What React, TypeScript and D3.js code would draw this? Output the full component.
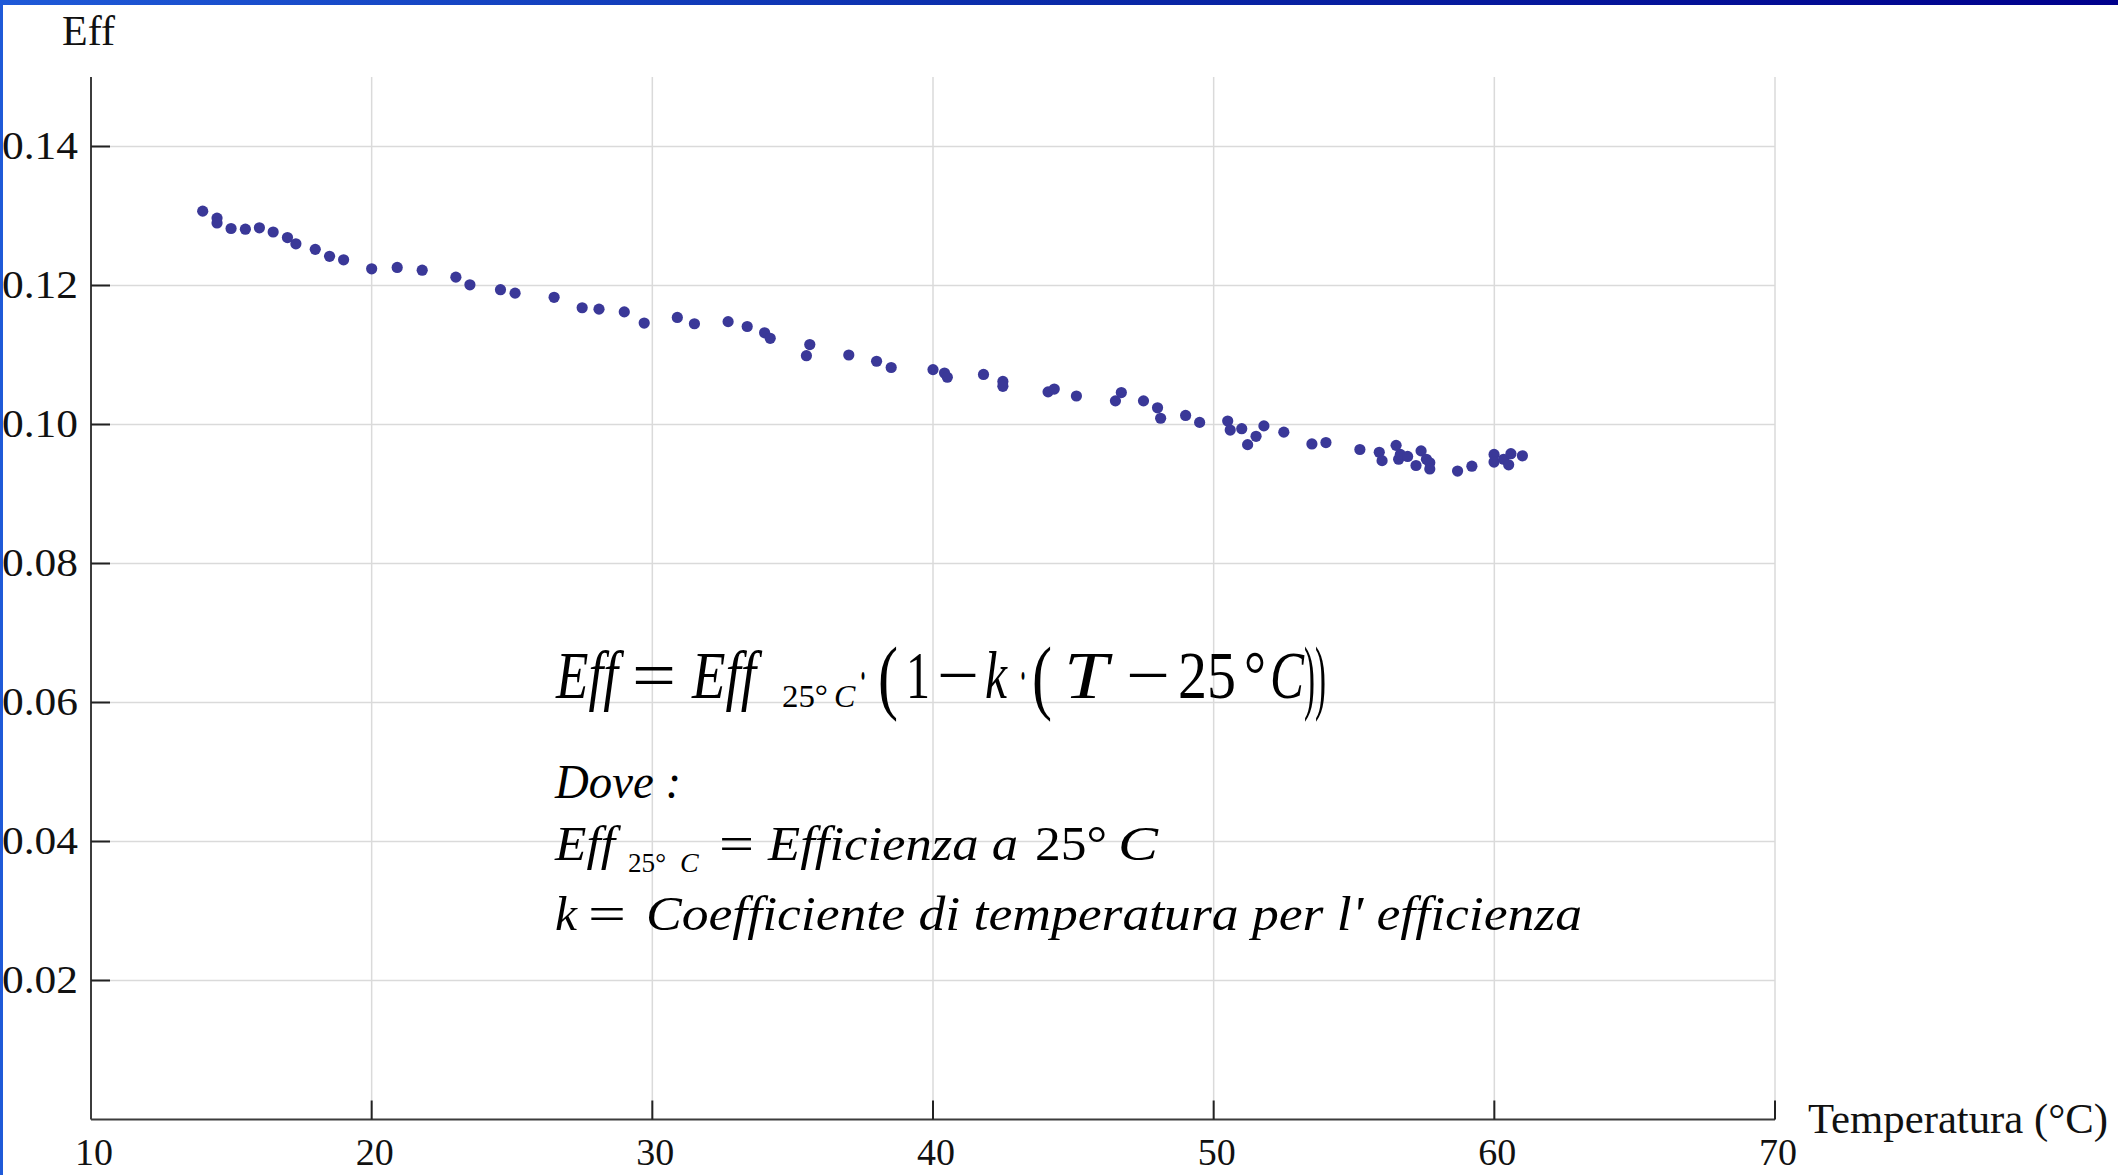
import * as d3 from "d3";
import React from "react";

// temperatura (°C) and efficienza
const temps = [
  13.98, 14.49, 14.49, 14.99, 15.5, 16.0, 16.49, 17.0, 17.3, 17.99, 18.5, 19.0,
  20.0, 20.91, 21.8, 23.0, 23.5, 24.59, 25.11, 26.5, 27.5, 28.1, 29.0, 29.71,
  30.89, 31.5, 32.7, 33.38, 34.0, 34.2, 35.61, 35.49, 37.0, 37.99, 38.51, 40.0,
  40.41, 40.51, 41.8, 42.49, 42.49, 44.1, 44.32, 45.11, 46.5, 46.71, 47.5, 48.0,
  48.11, 49.0, 49.5, 50.5, 50.59, 51.0, 51.21, 51.51, 51.79, 52.5, 53.5, 54.0,
  55.21, 55.9, 56.0, 56.5, 56.59, 56.65, 56.91, 57.21, 57.39, 57.58, 57.7, 57.7,
  58.69, 59.2, 59.99, 59.99, 60.33, 60.51, 60.59, 61.0,
];
const effs = [
  0.1307, 0.1297, 0.129, 0.1282, 0.1281, 0.1283, 0.1277, 0.1269, 0.126, 0.1252,
  0.1242, 0.1237, 0.1224, 0.1226, 0.1222, 0.1212, 0.1201, 0.1194, 0.1189, 0.1183,
  0.1168, 0.1166, 0.1162, 0.1146, 0.1154, 0.1145, 0.1148, 0.1141, 0.1132, 0.1124,
  0.1115, 0.1099, 0.11, 0.1091, 0.1082, 0.1079, 0.1074, 0.1068, 0.1072, 0.1062,
  0.1055, 0.1047, 0.1051, 0.1041, 0.1034, 0.1046, 0.1034, 0.1024, 0.1009, 0.1013,
  0.1003, 0.1005, 0.0992, 0.0994, 0.0971, 0.0983, 0.0998, 0.0989, 0.0972, 0.0974,
  0.0964, 0.096, 0.0948, 0.097, 0.095, 0.0957, 0.0954, 0.0941, 0.0962, 0.095,
  0.0945, 0.0936, 0.0933, 0.094, 0.0957, 0.0946, 0.095, 0.0942, 0.0958, 0.0955,
];
const xTicks = [10, 20, 30, 40, 50, 60, 70];
const yTicks = [0.02, 0.04, 0.06, 0.08, 0.1, 0.12, 0.14];

const W = 2118;
const H = 1175;
const margin = { left: 91, right: 343, top: 77, bottom: 55.5 };
const serif = "'Liberation Serif', 'Times New Roman', serif";
const fit = "spacingAndGlyphs";

const App = () => {
  const x = d3.scaleLinear().domain([10, 70]).range([margin.left, W - margin.right]);
  const y = d3.scaleLinear().domain([0, 0.15]).range([H - margin.bottom, margin.top]);
  const x0 = x(10), x1 = x(70), yb = y(0), yt = y(0.15);
  const pts = temps.map((t, i) => [t, effs[i]]);

  return (
    <svg width={W} height={H} style={{ position: "absolute", left: 0, top: 0, background: "#fff" }}>
      <defs>
        <linearGradient id="bar" x1="0" x2="1" y1="0" y2="0">
          <stop offset="0" stopColor="#1f5ad8" />
          <stop offset="0.5" stopColor="#0a2aa8" />
          <stop offset="1" stopColor="#00008c" />
        </linearGradient>
      </defs>
      <rect x={0} y={0} width={W} height={H} fill="#fff" />
      <rect x={0} y={0} width={W} height={5} fill="url(#bar)" />
      <rect x={0} y={0} width={3} height={H} fill="#1f5ad8" />

      {/* grid */}
      <g stroke="#dadada" strokeWidth={1.5}>
        {xTicks.slice(1).map((t) => (
          <line key={"gx" + t} x1={x(t)} x2={x(t)} y1={yt} y2={yb} />
        ))}
        {yTicks.map((t) => (
          <line key={"gy" + t} x1={x0} x2={x1} y1={y(t)} y2={y(t)} />
        ))}
      </g>

      {/* axes */}
      <line x1={x0} x2={x0} y1={yt} y2={yb} stroke="#3c3c3c" strokeWidth={2} />
      <line x1={x0} x2={x1} y1={yb} y2={yb} stroke="#3c3c3c" strokeWidth={2} />
      <g stroke="#222" strokeWidth={2}>
        {yTicks.map((t) => (
          <line key={"ty" + t} x1={x0} x2={x0 + 19} y1={y(t)} y2={y(t)} />
        ))}
        {xTicks.slice(1).map((t) => (
          <line key={"tx" + t} x1={x(t)} x2={x(t)} y1={yb} y2={yb - 19} />
        ))}
      </g>

      <g fontFamily={serif} fill="#111">
        {yTicks.map((t) => (
          <text key={"ly" + t} x={2} y={y(t) + 12} fontSize={40} textLength={76} lengthAdjust={fit}>
            {d3.format(".2f")(t)}
          </text>
        ))}
        {xTicks.map((t) => (
          <text key={"lx" + t} x={x(t) + 3} y={1165} fontSize={38} textAnchor="middle">
            {t}
          </text>
        ))}
        <text x={62} y={45} fontSize={42}>Eff</text>
        <text x={1808} y={1133} fontSize={43} textLength={300} lengthAdjust={fit}>
          Temperatura (°C)
        </text>
      </g>

      {/* points */}
      <g fill="#3a3898">
        {pts.map((d, i) => (
          <circle key={i} cx={x(d[0])} cy={y(d[1])} r={5.6} />
        ))}
      </g>

      {/* formula */}
      <g fontFamily={serif} fill="#000">
        <text x={556} y={698} fontSize={68} fontStyle="italic" textLength={62} lengthAdjust={fit}>Eff</text>
        <text x={632} y={698} fontSize={68} textLength={44} lengthAdjust={fit}>=</text>
        <text x={692} y={698} fontSize={68} fontStyle="italic" textLength={64} lengthAdjust={fit}>Eff</text>
        <text x={782} y={707} fontSize={32} textLength={46} lengthAdjust={fit}>25°</text>
        <text x={834} y={707} fontSize={32} fontStyle="italic">C</text>
        <text x={859} y={698} fontSize={68} textLength={8} lengthAdjust={fit}>·</text>
        <text x={878} y={704} fontSize={82} textLength={20} lengthAdjust={fit}>(</text>
        <text x={906} y={698} fontSize={68} textLength={24} lengthAdjust={fit}>1</text>
        <text x={937} y={698} fontSize={68} textLength={42} lengthAdjust={fit}>−</text>
        <text x={985} y={698} fontSize={68} fontStyle="italic" textLength={22} lengthAdjust={fit}>k</text>
        <text x={1019} y={698} fontSize={68} textLength={8} lengthAdjust={fit}>·</text>
        <text x={1032} y={704} fontSize={82} textLength={20} lengthAdjust={fit}>(</text>
        <text x={1064} y={698} fontSize={68} fontStyle="italic" textLength={44} lengthAdjust={fit}>T</text>
        <text x={1126} y={698} fontSize={68} textLength={44} lengthAdjust={fit}>−</text>
        <text x={1178} y={698} fontSize={68} textLength={58} lengthAdjust={fit}>25</text>
        <text x={1244} y={698} fontSize={68} textLength={22} lengthAdjust={fit}>°</text>
        <text x={1270} y={698} fontSize={68} fontStyle="italic" textLength={34} lengthAdjust={fit}>C</text>
        <text x={1304} y={704} fontSize={82} textLength={22} lengthAdjust={fit}>))</text>

        <text x={555} y={798} fontSize={48} fontStyle="italic" textLength={126} lengthAdjust={fit}>Dove :</text>

        <text x={555} y={860} fontSize={48} fontStyle="italic" textLength={60} lengthAdjust={fit}>Eff</text>
        <text x={628} y={872} fontSize={28} textLength={38} lengthAdjust={fit}>25°</text>
        <text x={680} y={872} fontSize={28} fontStyle="italic">C</text>
        <text x={719} y={860} fontSize={48} textLength={35} lengthAdjust={fit}>=</text>
        <text x={768} y={860} fontSize={48} fontStyle="italic" textLength={250} lengthAdjust={fit}>Efficienza  a</text>
        <text x={1035} y={860} fontSize={48} textLength={72} lengthAdjust={fit}>25°</text>
        <text x={1118} y={860} fontSize={48} fontStyle="italic" textLength={40} lengthAdjust={fit}>C</text>

        <text x={555} y={930} fontSize={48} fontStyle="italic" textLength={22} lengthAdjust={fit}>k</text>
        <text x={588} y={930} fontSize={48} textLength={38} lengthAdjust={fit}>=</text>
        <text x={646} y={930} fontSize={48} fontStyle="italic" textLength={936} lengthAdjust={fit}>
          Coefficiente di temperatura  per l' efficienza
        </text>
      </g>
    </svg>
  );
};

export default App;
